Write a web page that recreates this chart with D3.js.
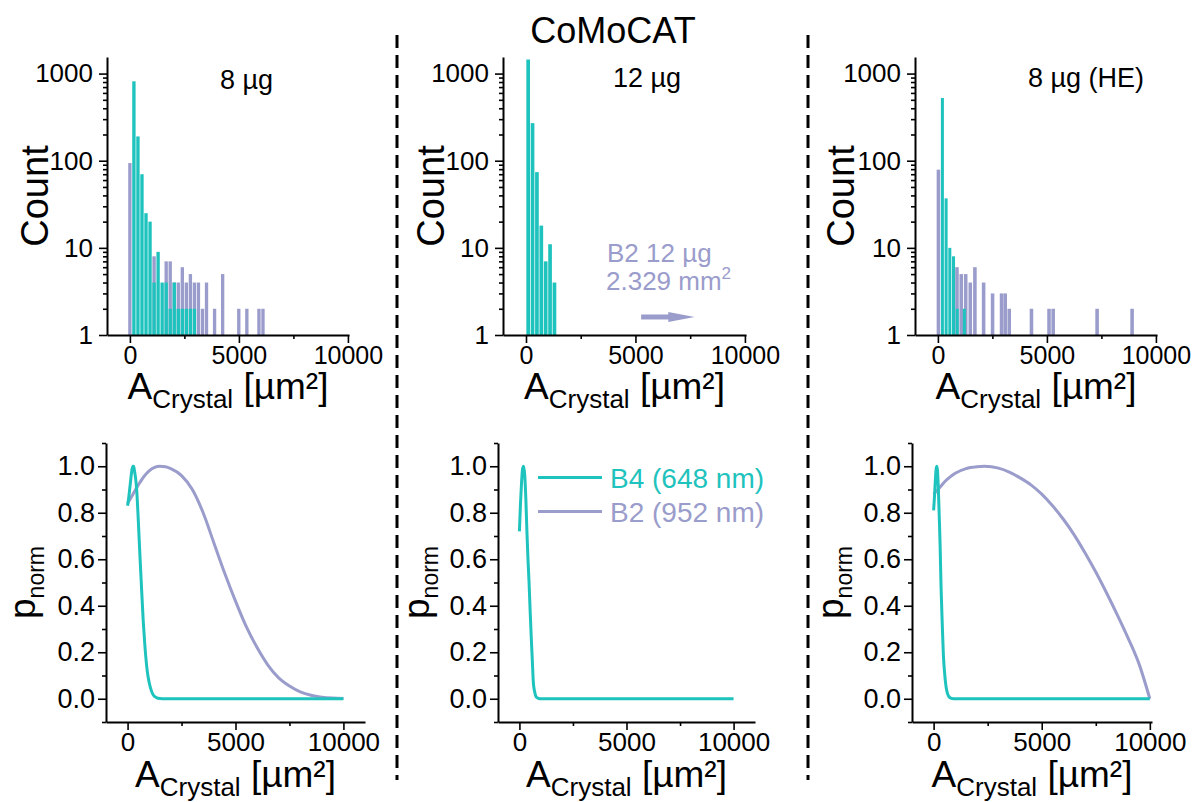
<!DOCTYPE html>
<html><head><meta charset="utf-8">
<script src="https://cdn.jsdelivr.net/npm/d3@7"></script>
<style>
body{margin:0;background:#fff}
text{font-family:"Liberation Sans",Arial,Helvetica,sans-serif;fill:#000}
</style>
</head><body>
<svg id="chart" width="1198" height="802"></svg>
<script>
// ---------------- DATA ----------------
const figureTitle = "CoMoCAT";
const panelTitles = ["8 \u00b5g", "12 \u00b5g", "8 \u00b5g (HE)"];
const seriesNames = ["B4 (648 nm)", "B2 (952 nm)"];
const countTicks = [1, 10, 100, 1000];
const areaTicks = [0, 5000, 10000];
const areaMinorTicks = [2500, 7500];
const pTicks = [0.0, 0.2, 0.4, 0.6, 0.8, 1.0];

// Histograms: bin left edges (µm²), bin widths (µm²), counts
const hist8_B4_edges  = [92, 277, 462, 647, 832, 1017, 1202, 1387, 1572, 1757, 1942, 2127, 2312, 2497, 2682, 2867];
const hist8_B4_counts = [815, 190, 70, 25, 20, 4, 9, 4, 4, 2, 4, 2, 2, 2, 2, 2];
const hist8_B4_width  = 185;
const hist8_B2_edges  = [-93, 1017, 1572, 1757, 1942, 2127, 2312, 2497, 2682, 2867, 3052, 3237, 3422, 3792, 4162, 4902, 5272, 5827, 6012];
const hist8_B2_counts = [94, 8, 7, 7, 4, 4, 6, 4, 5, 4, 4, 2, 4, 2, 5, 2, 2, 2, 2];
const hist8_B2_width  = 185;

const hist12_B4_edges  = [0, 200, 400, 600, 800, 1000, 1200];
const hist12_B4_counts = [1450, 270, 74, 18, 7, 11, 4];
const hist12_B4_width  = 200;
const hist12_B2_edges  = [];
const hist12_B2_counts = [];
const hist12_B2_width  = 200;
const hist12_B2_note   = ["B2 12 \u00b5g", "2.329 mm"];

const histHE_B4_edges  = [122, 292, 462, 632, 802, 1130];
const histHE_B4_counts = [525, 37, 10, 8, 2, 2];
const histHE_B4_width  = 170;
const histHE_B2_edges  = [-73, 778, 973, 1178, 1388, 1600, 2000, 2410, 2822, 2990, 3175, 4195, 5000, 5190, 7205, 8810];
const histHE_B2_counts = [79, 6, 5, 5, 4, 6, 4, 3, 3, 3, 2, 2, 2, 2, 2, 2];
const histHE_B2_width  = 195;

// Normalised probability curves
const p8_B4_x = [0, 60, 120, 180, 240, 280, 320, 370, 420, 500, 570, 650, 725, 800, 910, 1000, 1100, 1200, 1350, 1500, 1700, 2500, 5000, 7500, 10000];
const p8_B4_y = [0.83, 0.87, 0.92, 0.97, 1.0, 1.0, 0.98, 0.95, 0.90, 0.76, 0.62, 0.47, 0.335, 0.23, 0.12, 0.07, 0.035, 0.015, 0.004, 0.001, 0, 0, 0, 0, 0];
const p8_B2_x = [0, 250, 500, 750, 1000, 1250, 1500, 1750, 2000, 2500, 3000, 3500, 4000, 4500, 5000, 5500, 6000, 6500, 7000, 7500, 8000, 8500, 9000, 9500, 10000];
const p8_B2_y = [0.84, 0.88, 0.92, 0.955, 0.98, 0.995, 1.0, 0.998, 0.99, 0.96, 0.90, 0.80, 0.67, 0.54, 0.42, 0.31, 0.22, 0.145, 0.09, 0.055, 0.03, 0.015, 0.007, 0.003, 0.001];

const p12_B4_x = [0, 50, 100, 150, 200, 250, 300, 350, 400, 450, 500, 550, 600, 650, 700, 750, 800, 900, 1000, 2500, 5000, 7500, 10000];
const p12_B4_y = [0.72, 0.84, 0.93, 0.99, 1.0, 0.96, 0.86, 0.72, 0.60, 0.50, 0.38, 0.27, 0.17, 0.07, 0.035, 0.015, 0.006, 0.001, 0, 0, 0, 0, 0];

const pHE_B4_x = [0, 40, 80, 120, 150, 180, 220, 265, 300, 344, 400, 451, 500, 577, 650, 750, 850, 1000, 2500, 5000, 7500, 10000];
const pHE_B4_y = [0.81, 0.87, 0.94, 0.99, 1.0, 0.98, 0.90, 0.77, 0.66, 0.48, 0.32, 0.19, 0.12, 0.05, 0.02, 0.005, 0.001, 0, 0, 0, 0, 0];
const pHE_B2_x = [0, 250, 500, 750, 1000, 1500, 2000, 2350, 3000, 3500, 4000, 4500, 5000, 5500, 6000, 6500, 7000, 7500, 8000, 8500, 9000, 9500, 10000];
const pHE_B2_y = [0.88, 0.905, 0.932, 0.953, 0.97, 0.99, 0.998, 1.0, 0.992, 0.975, 0.95, 0.92, 0.88, 0.83, 0.772, 0.705, 0.628, 0.545, 0.455, 0.36, 0.26, 0.15, 0.0];

// ---------------- STYLE / LAYOUT ----------------
const C_B4 = "#1fc3bd";
const C_B2 = "#9a9ccb";
const svg = d3.select("#chart");

const topLayout = [
  {x0: 107, x1: 349, ylab: 48, title: [220, 89]},
  {x0: 503, x1: 746, ylab: 444, title: [613, 87]},
  {x0: 915, x1: 1157, ylab: 854, title: [1028, 87]}
];
const botLayout = [
  {x0: 106, x1: 365, dom: [-1000, 11000], ylab: 35},
  {x0: 498, x1: 755, dom: [-1000, 11000], ylab: 429},
  {x0: 912, x1: 1152, dom: [-1000, 10100], ylab: 843}
];
const TOP_Y = [335, 57], BOT_Y = [722, 443];

function styleAxis(g, fs) {
  g.selectAll(".domain").attr("stroke", "#000").attr("stroke-width", 2);
  g.selectAll(".tick line").attr("stroke", "#000").attr("stroke-width", 1.6);
  g.selectAll(".tick text").style("font-size", fs + "px").attr("fill", "#000")
    .style("font-family", '"Liberation Sans",Arial,sans-serif');
}

function xLabel(cx, baseY) {
  const t = svg.append("text").attr("x", cx).attr("y", baseY)
    .attr("text-anchor", "middle").style("font-size", "37px").style("white-space", "pre");
  t.append("tspan").text("A");
  t.append("tspan").attr("dy", 9).style("font-size", "26px").text("Crystal");
  t.append("tspan").attr("dy", -9).text("\u00a0[\u00b5m\u00b2]");
}

// ---------------- TITLE ----------------
svg.append("text").attr("x", 613).attr("y", 43).attr("text-anchor", "middle")
  .style("font-size", "36px").text(figureTitle);

// ---------------- SEPARATORS ----------------
[397, 808].forEach(sx => {
  svg.append("line").attr("x1", sx).attr("x2", sx).attr("y1", 35).attr("y2", 780)
    .attr("stroke", "#000").attr("stroke-width", 3).attr("stroke-dasharray", "13,7");
});

// ---------------- HISTOGRAMS ----------------
const histPanels = [
  {B4: [hist8_B4_edges, hist8_B4_counts, hist8_B4_width], B2: [hist8_B2_edges, hist8_B2_counts, hist8_B2_width]},
  {B4: [hist12_B4_edges, hist12_B4_counts, hist12_B4_width], B2: [hist12_B2_edges, hist12_B2_counts, hist12_B2_width]},
  {B4: [histHE_B4_edges, histHE_B4_counts, histHE_B4_width], B2: [histHE_B2_edges, histHE_B2_counts, histHE_B2_width]}
];

const minorCount = [];
[1, 10, 100].forEach(d => { for (let k = 2; k <= 9; k++) minorCount.push(d * k); });

histPanels.forEach((p, i) => {
  const L = topLayout[i];
  const x = d3.scaleLinear().domain([-1050, 10050]).range([L.x0, L.x1]);
  const y = d3.scaleLog().domain([1, 1550]).range(TOP_Y);
  const g = svg.append("g");
  [["B2", C_B2], ["B4", C_B4]].forEach(([key, col]) => {
    const [edges, counts, w] = p[key];
    const bins = edges.map((e, j) => ({x0: e, x1: e + w, c: counts[j]}));
    g.selectAll(null).data(bins).enter().append("rect")
      .attr("x", d => x(d.x0) + 0.35)
      .attr("width", d => Math.max(0.5, x(d.x1) - x(d.x0) - 0.7))
      .attr("y", d => y(d.c))
      .attr("height", d => y(1) - y(d.c))
      .attr("fill", col);
  });
  // axes
  const ax = svg.append("g").attr("transform", `translate(0,${TOP_Y[0]})`)
    .call(d3.axisBottom(x).tickValues(areaTicks).tickFormat(d3.format("d")).tickSize(8).tickSizeOuter(0).tickPadding(3));
  styleAxis(ax, 25);
  const axm = svg.append("g").attr("transform", `translate(0,${TOP_Y[0]})`)
    .call(d3.axisBottom(x).tickValues(areaMinorTicks).tickFormat("").tickSize(4).tickSizeOuter(0));
  axm.select(".domain").remove(); styleAxis(axm, 25);
  const ay = svg.append("g").attr("transform", `translate(${L.x0},0)`)
    .call(d3.axisLeft(y).tickValues(countTicks).tickFormat(d3.format("d")).tickSize(8).tickSizeOuter(0).tickPadding(6));
  styleAxis(ay, 26);
  const aym = svg.append("g").attr("transform", `translate(${L.x0},0)`)
    .call(d3.axisLeft(y).tickValues(minorCount).tickFormat("").tickSize(4).tickSizeOuter(0));
  aym.select(".domain").remove(); styleAxis(aym, 25);
  // labels
  svg.append("text").attr("transform", `translate(${L.ylab},${(TOP_Y[0] + TOP_Y[1]) / 2}) rotate(-90)`)
    .attr("text-anchor", "middle").style("font-size", "38px").text("Count");
  xLabel((L.x0 + L.x1) / 2, TOP_Y[0] + 64);
  svg.append("text").attr("x", L.title[0]).attr("y", L.title[1]).style("font-size", "27px").text(panelTitles[i]);

  if (i === 1) {
    // B2 off-scale note + arrow
    const nx = x(3700);
    svg.append("text").attr("x", nx).attr("y", y(6.9)).style("font-size", "26px")
      .style("fill", C_B2).text(hist12_B2_note[0]);
    const t2 = svg.append("text").attr("x", nx - 1).attr("y", y(3.25)).style("font-size", "26px").style("fill", C_B2);
    t2.append("tspan").text(hist12_B2_note[1]);
    t2.append("tspan").attr("dy", -11).style("font-size", "17px").text("2");
    const ay0 = y(1.61);
    svg.append("line").attr("x1", x(5260)).attr("x2", x(6700)).attr("y1", ay0).attr("y2", ay0)
      .attr("stroke", C_B2).attr("stroke-width", 5);
    svg.append("path").attr("d", `M${x(6500)},${ay0 - 5}L${x(7700)},${ay0}L${x(6500)},${ay0 + 5}Z`).attr("fill", C_B2);
  }
});

// ---------------- PROBABILITY CURVES ----------------
const curvePanels = [
  [[p8_B2_x, p8_B2_y, C_B2], [p8_B4_x, p8_B4_y, C_B4]],
  [[p12_B4_x, p12_B4_y, C_B4]],
  [[pHE_B2_x, pHE_B2_y, C_B2], [pHE_B4_x, pHE_B4_y, C_B4]]
];

curvePanels.forEach((series, i) => {
  const L = botLayout[i];
  const x = d3.scaleLinear().domain(L.dom).range([L.x0, L.x1]);
  const y = d3.scaleLinear().domain([-0.1, 1.1]).range(BOT_Y);
  const line = d3.line().x(d => x(d[0])).y(d => y(d[1])).curve(d3.curveMonotoneX);
  series.forEach(([xs, ys, col]) => {
    svg.append("path").datum(xs.map((v, j) => [v, ys[j]])).attr("d", line)
      .attr("fill", "none").attr("stroke", col).attr("stroke-width", 3).attr("stroke-linejoin", "round");
  });
  const ax = svg.append("g").attr("transform", `translate(0,${BOT_Y[0]})`)
    .call(d3.axisBottom(x).tickValues(areaTicks).tickFormat(d3.format("d")).tickSize(8).tickSizeOuter(0).tickPadding(3));
  styleAxis(ax, 26);
  const axm = svg.append("g").attr("transform", `translate(0,${BOT_Y[0]})`)
    .call(d3.axisBottom(x).tickValues(areaMinorTicks).tickFormat("").tickSize(4).tickSizeOuter(0));
  axm.select(".domain").remove(); styleAxis(axm, 26);
  const ay = svg.append("g").attr("transform", `translate(${L.x0},0)`)
    .call(d3.axisLeft(y).tickValues(pTicks).tickFormat(d3.format(".1f")).tickSize(8).tickSizeOuter(0).tickPadding(3));
  styleAxis(ay, 27);
  const aym = svg.append("g").attr("transform", `translate(${L.x0},0)`)
    .call(d3.axisLeft(y).tickValues([-0.1, 0.1, 0.3, 0.5, 0.7, 0.9, 1.1]).tickFormat("").tickSize(4).tickSizeOuter(0));
  aym.select(".domain").remove(); styleAxis(aym, 26);

  const yl = svg.append("text").attr("transform", `translate(${L.ylab},${(BOT_Y[0] + BOT_Y[1]) / 2}) rotate(-90)`)
    .attr("text-anchor", "middle").style("font-size", "37px");
  yl.append("tspan").text("p");
  yl.append("tspan").attr("dy", 9).style("font-size", "23px").text("norm");
  xLabel((L.x0 + L.x1) / 2, BOT_Y[0] + 65);

  if (i === 1) {
    const lg = [[C_B4, 477.5, seriesNames[0]], [C_B2, 511.5, seriesNames[1]]];
    lg.forEach(([col, ly, name]) => {
      svg.append("line").attr("x1", 538).attr("x2", 602).attr("y1", ly).attr("y2", ly)
        .attr("stroke", col).attr("stroke-width", 3);
      svg.append("text").attr("x", 610).attr("y", ly + 10).style("font-size", "28px").style("fill", col).text(name);
    });
  }
});
</script>
</body></html>
